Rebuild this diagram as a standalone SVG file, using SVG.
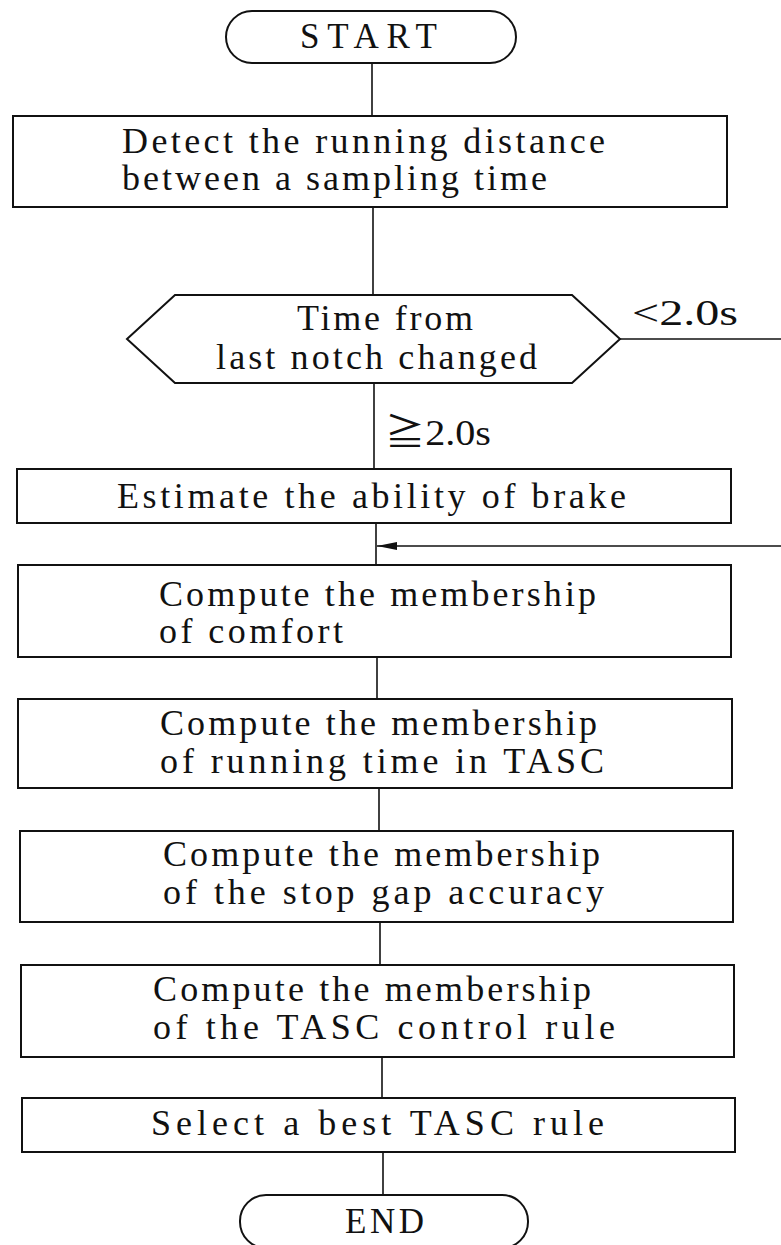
<svg xmlns="http://www.w3.org/2000/svg" width="781" height="1245" viewBox="0 0 781 1245">
  <style>
    .shape { fill: #ffffff; stroke: #111111; stroke-width: 2; }
    .link { fill: none; stroke: #111111; stroke-width: 1.6; }
    text { font-family: "Liberation Serif", "DejaVu Serif", "Noto Sans CJK JP", serif; fill: #111111; font-size: 36px; }
    .term { font-size: 35px; }
  </style>
  <defs>
    <marker id="arrow" viewBox="0 0 20 8" refX="20" refY="4" markerWidth="20" markerHeight="8" markerUnits="userSpaceOnUse" orient="auto">
      <path d="M0,0 L20,4 L0,8 Z" fill="#111111"/>
    </marker>
  </defs>

  <rect width="781" height="1245" fill="#ffffff"/>

  <!-- connectors -->
  <g id="connectors">
    <line class="link" x1="372" y1="63" x2="372" y2="116"/>
    <line class="link" x1="373" y1="207" x2="373" y2="295"/>
    <line class="link" x1="374" y1="383" x2="374" y2="469"/>
    <line class="link" x1="376" y1="523" x2="376" y2="565"/>
    <line class="link" x1="377" y1="657" x2="377" y2="699"/>
    <line class="link" x1="379" y1="788" x2="379" y2="831"/>
    <line class="link" x1="380" y1="922" x2="380" y2="965"/>
    <line class="link" x1="382" y1="1057" x2="382" y2="1098"/>
    <line class="link" x1="383" y1="1152" x2="383" y2="1195"/>
    <!-- bypass branch: leaves the decision to the right, re-enters above the comfort step -->
    <line class="link" x1="620" y1="339" x2="781" y2="339"/>
    <line class="link" x1="781" y1="546" x2="377" y2="546" marker-end="url(#arrow)"/>
    <text x="632" y="325" textLength="106" lengthAdjust="spacingAndGlyphs">&lt;2.0s</text>
    <text x="385" y="445" textLength="106" lengthAdjust="spacingAndGlyphs">≧2.0s</text>
  </g>

  <g id="start">
    <rect class="shape" x="226" y="11" width="290" height="52" rx="26" ry="26"/>
    <text class="term" x="300" y="48" textLength="137" lengthAdjust="spacing">START</text>
  </g>

  <g id="detect">
    <rect class="shape" x="13" y="116" width="714" height="91"/>
    <text x="122" y="153" textLength="483" lengthAdjust="spacing">Detect the running distance</text>
    <text x="122" y="190" textLength="425" lengthAdjust="spacing">between a sampling time</text>
  </g>

  <g id="notch-check">
    <polygon class="shape" points="127,339 175,295 572,295 620,339 572,383 175,383"/>
    <text x="297" y="330" textLength="176" lengthAdjust="spacing">Time from</text>
    <text x="216" y="369" textLength="321" lengthAdjust="spacing">last notch changed</text>
  </g>

  <g id="estimate">
    <rect class="shape" x="17" y="469" width="714" height="54"/>
    <text x="117" y="508" textLength="509" lengthAdjust="spacing">Estimate the ability of brake</text>
  </g>

  <g id="comfort">
    <rect class="shape" x="18" y="565" width="713" height="92"/>
    <text x="159" y="606" textLength="437" lengthAdjust="spacing">Compute the membership</text>
    <text x="159" y="643" textLength="184" lengthAdjust="spacing">of comfort</text>
  </g>

  <g id="running-time">
    <rect class="shape" x="18" y="699" width="714" height="89"/>
    <text x="160" y="735" textLength="437" lengthAdjust="spacing">Compute the membership</text>
    <text x="160" y="773" textLength="444" lengthAdjust="spacing">of running time in TASC</text>
  </g>

  <g id="stop-gap">
    <rect class="shape" x="20" y="831" width="713" height="91"/>
    <text x="163" y="866" textLength="437" lengthAdjust="spacing">Compute the membership</text>
    <text x="163" y="904" textLength="441" lengthAdjust="spacing">of the stop gap accuracy</text>
  </g>

  <g id="control-rule">
    <rect class="shape" x="21" y="965" width="713" height="92"/>
    <text x="153" y="1001" textLength="438" lengthAdjust="spacing">Compute the membership</text>
    <text x="153" y="1039" textLength="462" lengthAdjust="spacing">of the TASC control rule</text>
  </g>

  <g id="select">
    <rect class="shape" x="22" y="1098" width="713" height="54"/>
    <text x="151" y="1135" textLength="453" lengthAdjust="spacing">Select a best TASC rule</text>
  </g>

  <g id="end">
    <rect class="shape" x="240" y="1195" width="288" height="53" rx="26" ry="26"/>
    <text class="term" x="345" y="1233" textLength="79" lengthAdjust="spacing">END</text>
  </g>
</svg>
